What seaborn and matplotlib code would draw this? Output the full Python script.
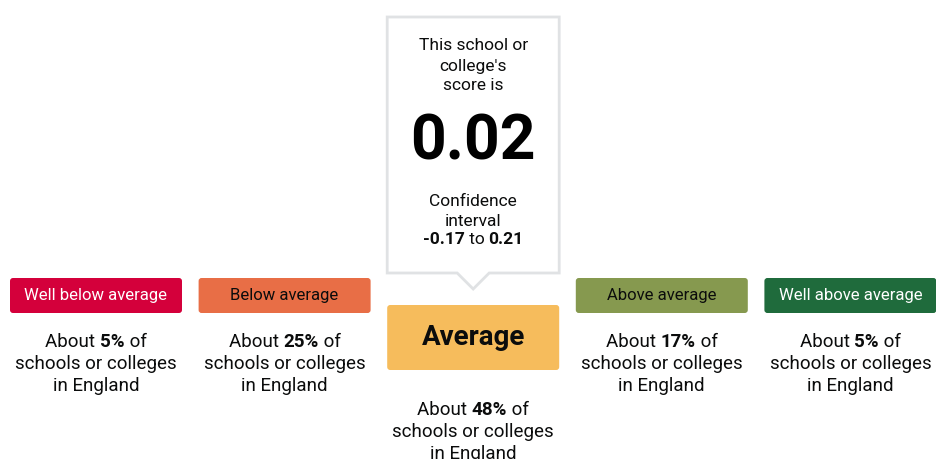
import matplotlib
matplotlib.use("Agg")
import matplotlib.pyplot as plt
from matplotlib.patches import FancyBboxPatch, Polygon
import seaborn as sns

# bands shown on the scale, left to right
BANDS = ["Well below average", "Below average", "Average", "Above average", "Well above average"]
PERCENTS = ["5%", "25%", "48%", "17%", "5%"]
BAND_COLORS = ["#D4003B", "#E86E46", "#F6BC5C", "#86994F", "#1F6B3C"]
LABEL_COLORS = ["#FFFFFF", "#0B0C0C", "#0B0C0C", "#0B0C0C", "#FFFFFF"]

SCORE = "0.02"
CI_LOW = "-0.17"
CI_HIGH = "0.21"
SELECTED = "Average"

TEXT = "#0B0C0C"

sns.set_theme(style="white")
plt.rcParams["font.family"] = ["Roboto", "DejaVu Sans"]

fig = plt.figure(figsize=(9.36, 4.59), dpi=100)
fig.patch.set_facecolor("white")
ax = fig.add_axes([0, 0, 1, 1])
ax.set_xlim(0, 936)
ax.set_ylim(459, 0)
ax.axis("off")
renderer = fig.canvas.get_renderer()


def mixed_line(x, y, parts, size):
    # draw a centred line made of pieces with different weights
    items = []
    total = 0
    for s, w in parts:
        t = ax.text(0, y, s, fontsize=size, fontweight=w, color=TEXT,
                    ha="left", va="center")
        width = t.get_window_extent(renderer).width
        items.append((t, width))
        total += width
    left = x - total / 2
    for t, width in items:
        t.set_x(left)
        left += width


slot = 188.6
for i, (band, pct, col, lcol) in enumerate(zip(BANDS, PERCENTS, BAND_COLORS, LABEL_COLORS)):
    cx = 96 + i * slot
    if band == SELECTED:
        top, h, fs, fw = 305, 65, 20, "bold"
        text_y = 410
    else:
        top, h, fs, fw = 278, 35, 12, "normal"
        text_y = 342
    w = 172
    box = FancyBboxPatch((cx - w / 2 + 3, top + 3), w - 6, h - 6,
                         boxstyle="round,pad=3", fc=col, ec="none")
    ax.add_patch(box)
    ax.text(cx, top + h / 2, band, fontsize=fs, fontweight=fw, color=lcol,
            ha="center", va="center")

    mixed_line(cx, text_y, [("About ", "normal"), (pct, "bold"), (" of", "normal")], 13.5)
    ax.text(cx, text_y + 22, "schools or colleges", fontsize=13.5, color=TEXT,
            ha="center", va="center")
    ax.text(cx, text_y + 44, "in England", fontsize=13.5, color=TEXT,
            ha="center", va="center")

# callout above the selected band
sel = BANDS.index(SELECTED)
cx = 96 + sel * slot
left, right, top, bottom = cx - 86, cx + 86, 17, 273
outline = [(left, top), (right, top), (right, bottom), (cx + 16, bottom),
           (cx, bottom + 16), (cx - 16, bottom), (left, bottom)]
ax.add_patch(Polygon(outline, closed=True, fc="white", ec="#E0E2E4", lw=2,
                     joinstyle="miter"))

for k, line in enumerate(["This school or", "college's", "score is"]):
    ax.text(cx, 46 + k * 20, line, fontsize=12.5, color=TEXT, ha="center", va="center")
ax.text(cx, 142, SCORE, fontsize=45, fontweight="bold", color="black",
        ha="center", va="center")
ax.text(cx, 201, "Confidence", fontsize=12.5, color=TEXT, ha="center", va="center")
ax.text(cx, 221, "interval", fontsize=12.5, color=TEXT, ha="center", va="center")
mixed_line(cx, 240, [(CI_LOW, "bold"), (" to ", "normal"), (CI_HIGH, "bold")], 12.5)

plt.savefig("out.png", dpi=100, facecolor="white")
plt.close()
